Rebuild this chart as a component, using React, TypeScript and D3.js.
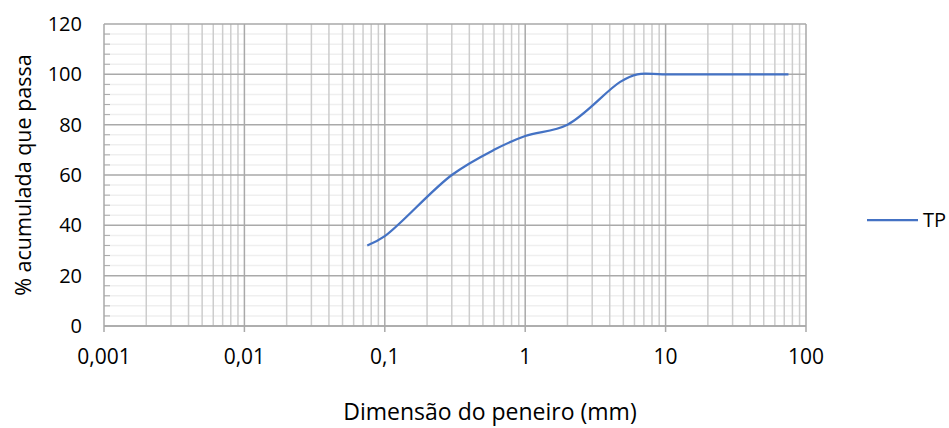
import React from "react";
import * as d3 from "d3";

// sieve openings (mm) and % passing
const sieves = [0.075, 0.1, 0.3, 0.6, 1, 2, 4.75, 6.3, 9.5, 19, 37.5, 75];
const passing = [32, 35.7, 60, 70, 75.5, 80, 97, 100, 100, 100, 100, 100];

const xTicks = [0.001, 0.01, 0.1, 1, 10, 100];
const xTickLabels = ["0,001", "0,01", "0,1", "1", "10", "100"];
const yTicks = [0, 20, 40, 60, 80, 100, 120];

const width = 949;
const height = 428;
const margin = { top: 24, right: 143, bottom: 102, left: 104 };
const font = "'Open Sans', sans-serif";

export default function App() {
  const x = d3
    .scaleLog()
    .domain([0.001, 100])
    .range([margin.left, width - margin.right]);
  const y = d3
    .scaleLinear()
    .domain([0, 120])
    .range([height - margin.bottom, margin.top]);

  // minor vertical lines: 2..9 of each decade
  const minorX: number[] = [];
  for (let d = -3; d < 2; d++) {
    for (let k = 2; k <= 9; k++) minorX.push(k * Math.pow(10, d));
  }
  const minorY = d3.range(0, 121, 4).filter((v) => v % 20 !== 0);

  const line = d3
    .line<number>()
    .x((d, i) => x(sieves[i]))
    .y((d) => y(d))
    .curve(d3.curveCatmullRom.alpha(0.5));

  const [x0, x1] = x.range();
  const [y0, y1] = y.range();

  return (
    <svg width={width} height={height} style={{ position: "absolute", left: 0, top: 0 }}>
      <rect width={width} height={height} fill="#fff" />
      {minorY.map((v) => (
        <line key={"my" + v} x1={x0} x2={x1} y1={y(v)} y2={y(v)} stroke="#efefef" strokeWidth={1.5} />
      ))}
      {minorX.map((v) => (
        <line key={"mx" + v} x1={x(v)} x2={x(v)} y1={y0} y2={y1} stroke="#cdcdcd" strokeWidth={1.5} />
      ))}
      {yTicks.map((v) => (
        <line key={"gy" + v} x1={x0} x2={x1} y1={y(v)} y2={y(v)} stroke="#a9a9a9" strokeWidth={1.5} />
      ))}
      {xTicks.map((v) => (
        <line key={"gx" + v} x1={x(v)} x2={x(v)} y1={y0 + 6} y2={y1} stroke="#a9a9a9" strokeWidth={1.5} />
      ))}
      {minorY.map((v) => (
        <line key={"ty" + v} x1={x0} x2={x0 + 6} y1={y(v)} y2={y(v)} stroke="#a9a9a9" strokeWidth={1} />
      ))}
      <line x1={x0} x2={x1} y1={y0} y2={y0} stroke="#a9a9a9" strokeWidth={1.5} />

      <path d={line(passing) || ""} fill="none" stroke="#4472c4" strokeWidth={2.25} />

      {yTicks.map((v) => (
        <text key={"ly" + v} x={x0 - 22} y={y(v) + 7} textAnchor="end" fontFamily={font} fontSize={20} fill="#000">
          {v}
        </text>
      ))}
      {xTicks.map((v, i) => (
        <text key={"lx" + v} x={x(v)} y={y0 + 38} textAnchor="middle" fontFamily={font} fontSize={21} fill="#000">
          {xTickLabels[i]}
        </text>
      ))}
      <text
        x={490}
        y={420}
        textAnchor="middle"
        fontFamily={font}
        fontSize={23}
        fill="#000"
      >
        Dimensão do peneiro (mm)
      </text>
      <text
        transform={`translate(31,${(y0 + y1) / 2}) rotate(-90)`}
        textAnchor="middle"
        fontFamily={font}
        fontSize={21.5}
        fill="#000"
      >
        % acumulada que passa
      </text>

      <line x1={867} x2={918} y1={220} y2={220} stroke="#4472c4" strokeWidth={2.25} />
      <text x={923} y={227} fontFamily={font} fontSize={20} fill="#000">
        TP
      </text>
    </svg>
  );
}
